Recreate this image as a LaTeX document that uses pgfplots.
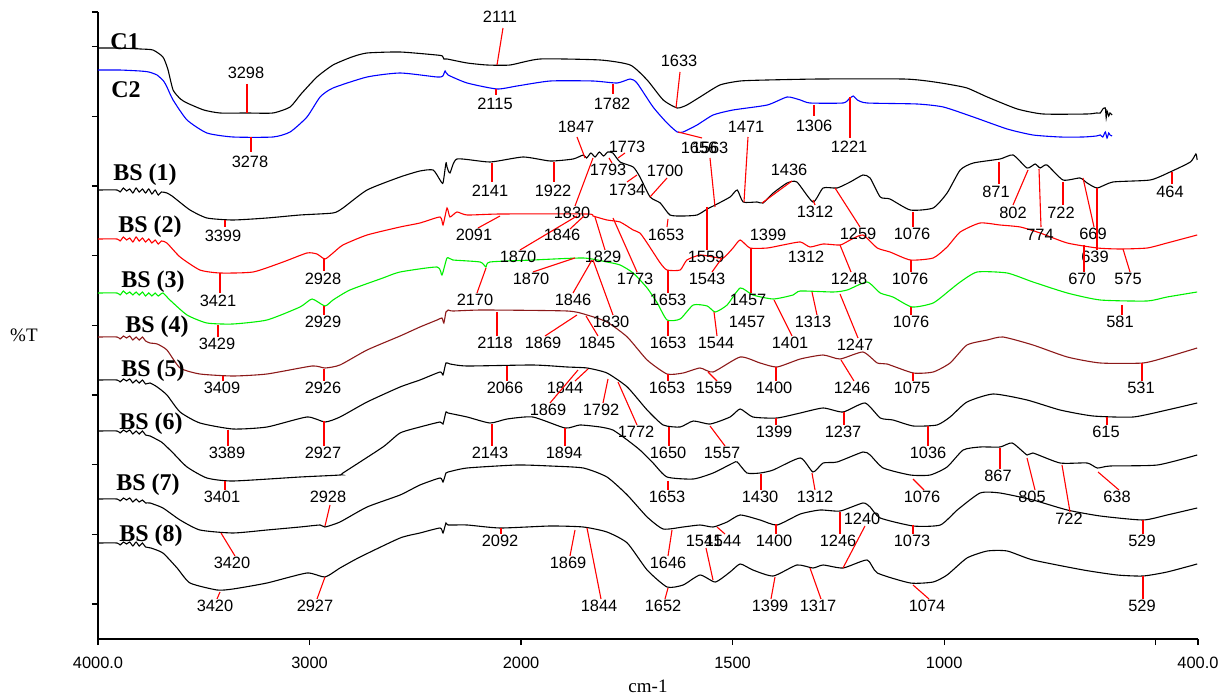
\documentclass[border=0pt]{standalone}
\usepackage{fontspec}
\setmainfont{Liberation Serif}
\newfontfamily\lsans{Liberation Sans}
\usepackage{pgfplots}
\pgfplotsset{compat=1.18}
\definecolor{bsfour}{RGB}{140,25,25}
\definecolor{bsgreen}{RGB}{0,240,0}
\newcommand{\A}[7]{\draw[red,line width=0.55pt] (#1,#2)--(#3,#4); \node[pk] at (#5,#6) {#7};}
\newcommand{\Lb}[3]{\node[pk] at (#1,#2) {#3};}
\newcommand{\Tn}[3]{\node[tn] at (#1,#2) {#3};}
\begin{document}
\begin{tikzpicture}
\begin{axis}[
  scale only axis, width=550pt, height=313.5pt,
  at={(0,0)}, anchor=south west,
  x dir=reverse, xmin=400, xmax=3000, ymin=0, ymax=627,
  x filter/.expression={x>2000 ? 2000+(x-2000)/2 : x},
  axis lines=left, axis line style={-, line width=0.7pt},
  tick align=outside, major tick length=3pt,
  tick style={black, line width=0.6pt},
  xtick={3000,2500,2000,1500,1000,500,400},
  xticklabels={4000.0,3000,2000,1500,1000,,400.0},
  ytick={35,104.67,174.33,244,313.67,383.33,453,522.67,592.33,627},
  yticklabels={},
  xticklabel style={font=\lsans\fontsize{8.2}{9}\selectfont, yshift=-2.5pt},
  xlabel={cm-1},
  xlabel style={font=\fontsize{9.5}{11}\selectfont, at={(axis description cs:0.5,-0.075)}, anchor=center},
  ylabel={\%T},
  ylabel style={font=\fontsize{9.5}{11}\selectfont, rotate=-90, at={(axis description cs:-0.0673,0.485)}, anchor=center},
  every axis plot/.append style={line width=0.55pt, mark=none, smooth, tension=0.35},
]
% C1
\addplot[black] coordinates {(4000,591) (3900,591) (3800,590) (3740,589) (3693,582) (3670,570) (3645,549) (3610,540) (3579,536) (3500,529) (3423,526) (3296,526) (3173,526) (3092,532) (3040,545) (2965,562) (2889,574) (2800,582) (2728,586) (2572,587) (2400,584) (2372,583) (2365,580) (2350,580) (2255,576) (2161,574) (2052,574) (1955,580) (1813,579) (1742,574) (1702,559) (1664,539) (1631,531) (1608,534) (1577,542) (1530,554) (1482,558) (1418,559) (1293,560) (1097,560) (1040,558) (993,555) (946,551) (898,542) (827,530) (766,525) (662,525) (640,526) (631,526) (625,530) (619,531) (617,521) (615,528) (611,523) (608,526) (603,524)};
% C2
\addplot[blue] coordinates {(4000,569) (3900,569) (3801,568) (3760,567) (3721,564) (3690,558) (3674,552) (3645,539) (3579,519) (3485,506) (3362,502) (3173,502) (3092,507) (3012,522) (2950,542) (2889,551) (2728,562) (2572,566) (2397,562) (2370,563) (2359,568) (2345,564) (2255,556) (2114,550) (2019,553) (1931,558) (1830,558) (1773,556) (1742,560) (1726,556) (1688,532) (1655,516) (1631,507) (1617,507) (1584,514) (1546,524) (1499,529) (1418,534) (1371,542) (1340,539) (1317,536) (1239,536) (1225,540) (1215,543) (1205,539) (1182,536) (1064,535) (1002,532) (931,522) (851,510) (790,504) (726,502) (671,502) (640,503) (631,504) (625,502) (619,507) (615,501) (611,506) (608,504) (603,503)};
% BS1
\addplot[black] coordinates {(4000,449) (3910,449) (3895,447) (3880,451) (3865,448) (3850,450) (3835,446) (3820,451) (3805,447) (3790,450) (3775,446) (3760,450) (3745,445) (3730,449) (3715,444) (3700,447) (3674,446) (3650,443) (3626,439) (3565,429) (3485,421) (3362,419) (3201,421) (3045,424) (2889,426) (2842,431) (2728,449) (2572,462) (2478,468) (2416,469) (2383,459) (2369,456) (2355,476) (2350,472) (2336,466) (2303,480) (2147,477) (1995,482) (1931,478) (1877,480) (1853,484) (1845,481) (1835,486) (1825,482) (1815,487) (1805,483) (1795,487) (1783,486) (1766,477) (1735,472) (1719,462) (1695,442) (1671,436) (1648,424) (1617,423) (1584,424) (1560,430) (1541,434) (1506,442) (1489,449) (1475,437) (1442,437) (1428,436) (1404,446) (1371,456) (1348,457) (1310,437) (1286,451) (1253,451) (1222,457) (1192,464) (1175,461) (1151,442) (1128,440) (1080,429) (1026,431) (993,446) (962,469) (931,476) (868,480) (837,484) (804,471) (785,475) (773,471) (757,474) (719,459) (679,461) (662,456) (638,451) (601,457) (513,459) (466,467) (418,477) (405,485) (402,479)};
% BS2
\addplot[red] coordinates {(4000,400) (3910,400) (3895,398) (3880,402) (3865,399) (3850,401) (3835,397) (3820,402) (3805,398) (3790,401) (3775,397) (3760,400) (3745,396) (3730,399) (3715,395) (3700,398) (3674,396) (3612,382) (3518,369) (3423,366) (3267,367) (3125,377) (3012,386) (2965,385) (2927,380) (2889,386) (2842,394) (2728,404) (2572,412) (2478,416) (2383,422) (2369,414) (2350,431) (2336,422) (2303,427) (2255,424) (2099,425) (1844,425) (1830,423) (1797,419) (1766,417) (1735,409) (1719,406) (1702,396) (1671,376) (1655,369) (1624,369) (1608,379) (1577,384) (1546,382) (1522,381) (1499,391) (1482,399) (1459,391) (1418,391) (1381,394) (1340,397) (1317,392) (1286,395) (1246,394) (1222,399) (1192,404) (1158,391) (1128,387) (1080,379) (1026,381) (993,392) (962,407) (915,416) (868,414) (820,412) (773,406) (709,396) (638,391) (584,390) (520,391) (473,396) (402,404)};
% BS3
\addplot[bsgreen] coordinates {(4000,346) (3910,346) (3895,344) (3880,348) (3865,345) (3850,347) (3835,344) (3820,347) (3805,344) (3790,347) (3775,343) (3760,346) (3745,343) (3730,346) (3715,343) (3693,346) (3660,339) (3579,324) (3485,316) (3362,315) (3201,319) (3045,332) (2988,340) (2927,333) (2889,339) (2809,349) (2653,361) (2572,367) (2397,372) (2374,364) (2350,381) (2322,379) (2194,377) (2166,372) (2147,377) (1972,379) (1853,381) (1797,377) (1766,374) (1735,366) (1702,351) (1678,336) (1655,319) (1624,320) (1593,334) (1560,333) (1541,327) (1513,334) (1482,351) (1452,344) (1404,340) (1357,344) (1340,348) (1262,347) (1229,349) (1182,357) (1151,346) (1121,342) (1076,332) (1026,336) (986,349) (962,357) (922,367) (851,366) (790,357) (709,346) (631,339) (520,338) (473,342) (402,347)};
% BS4
\addplot[bsfour] coordinates {(4000,302) (3910,302) (3895,300) (3880,303) (3865,301) (3850,303) (3835,299) (3820,302) (3805,299) (3790,302) (3775,298) (3754,296) (3720,295) (3674,289) (3612,271) (3518,265) (3362,263) (3201,265) (2988,273) (2927,271) (2856,274) (2728,289) (2572,303) (2478,312) (2397,319) (2374,321) (2365,316) (2355,327) (2345,329) (2322,328) (2180,329) (1891,328) (1844,324) (1797,317) (1749,302) (1702,279) (1655,265) (1617,266) (1577,271) (1546,267) (1482,282) (1435,276) (1395,272) (1340,280) (1286,284) (1246,280) (1192,287) (1158,276) (1135,275) (1073,266) (1026,267) (986,276) (946,294) (898,299) (861,302) (790,294) (709,282) (631,276) (530,276) (473,282) (402,291)};
% BS5
\addplot[black] coordinates {(4000,259) (3910,259) (3895,257) (3880,260) (3865,258) (3850,260) (3835,256) (3820,259) (3805,256) (3790,259) (3775,255) (3754,256) (3720,252) (3674,244) (3612,227) (3518,216) (3362,210) (3201,212) (3012,222) (2927,217) (2856,222) (2728,237) (2572,252) (2478,259) (2383,267) (2369,264) (2355,276) (2336,275) (2255,273) (1972,274) (1891,272) (1844,271) (1797,266) (1749,252) (1702,229) (1664,214) (1624,212) (1593,218) (1553,215) (1506,222) (1482,230) (1452,222) (1395,221) (1340,226) (1286,231) (1239,227) (1187,236) (1151,221) (1121,219) (1073,213) (1017,214) (986,222) (946,237) (884,245) (804,239) (726,229) (648,223) (553,222) (473,229) (402,236)};
% BS6
\addplot[black] coordinates {(4000,208) (3910,208) (3895,206) (3880,209) (3865,207) (3850,209) (3835,205) (3820,208) (3805,205) (3790,208) (3775,204) (3754,203) (3700,197) (3674,192) (3645,186) (3579,172) (3485,161) (3362,158) (3045,162) (2856,164) (2842,166) (2653,192) (2572,206) (2478,212) (2383,217) (2369,215) (2355,227) (2345,226) (2255,222) (2147,216) (2066,220) (1972,222) (1896,211) (1861,214) (1813,212) (1783,209) (1749,199) (1719,189) (1688,176) (1655,162) (1593,160) (1546,166) (1499,176) (1489,177) (1466,166) (1435,166) (1404,169) (1340,181) (1310,167) (1286,176) (1253,177) (1192,187) (1175,184) (1144,171) (1080,164) (1033,164) (993,172) (955,189) (915,192) (868,192) (839,196) (804,184) (790,186) (726,176) (662,176) (638,171) (608,173) (496,174) (402,184)};
% BS7
\addplot[black] coordinates {(4000,140) (3910,140) (3895,138) (3880,141) (3865,139) (3850,141) (3835,137) (3820,140) (3805,137) (3790,139) (3775,136) (3754,136) (3693,131) (3612,119) (3518,109) (3362,106) (3201,109) (3045,112) (2950,114) (2927,112) (2856,117) (2728,132) (2572,144) (2478,154) (2383,161) (2369,157) (2355,166) (2345,167) (2255,171) (2019,174) (1931,173) (1853,171) (1797,162) (1749,144) (1702,122) (1664,110) (1617,112) (1577,114) (1546,112) (1513,117) (1482,124) (1435,119) (1395,114) (1340,125) (1293,129) (1246,128) (1192,136) (1175,132) (1151,121) (1073,113) (1009,114) (969,129) (915,146) (868,146) (790,139) (709,129) (631,123) (530,119) (473,124) (402,131)};
% BS8
\addplot[black] coordinates {(4000,96) (3910,96) (3895,94) (3880,97) (3865,95) (3850,97) (3835,93) (3820,97) (3805,93) (3790,96) (3775,92) (3750,91) (3693,86) (3626,71) (3565,56) (3437,49) (3362,50) (3201,56) (3012,66) (2927,62) (2856,71) (2761,82) (2572,101) (2478,106) (2383,111) (2369,106) (2355,116) (2345,114) (2255,114) (2099,111) (1931,113) (1853,112) (1797,107) (1749,96) (1702,69) (1655,52) (1617,54) (1577,64) (1541,57) (1506,67) (1482,75) (1452,69) (1404,63) (1348,74) (1310,71) (1286,74) (1239,71) (1182,79) (1158,66) (1080,56) (1026,57) (993,64) (946,81) (898,88) (851,88) (790,79) (671,69) (591,64) (530,63) (473,67) (402,75)};
\end{axis}
\begin{scope}[x=0.5pt,y=-0.5pt,xshift=-49pt,yshift=319.5pt,
  pk/.style={font=\lsans\fontsize{8.2}{9}\selectfont, inner sep=0pt},
  tn/.style={font=\bfseries\fontsize{12}{14}\selectfont, inner sep=0pt}]
% trace names
\Tn{125}{42}{C1}
\Tn{126}{90}{C2}
\Tn{145}{175}{BS (1)}
\Tn{150}{227}{BS (2)}
\Tn{153}{282}{BS (3)}
\Tn{157}{327}{BS (4)}
\Tn{153}{371}{BS (5)}
\Tn{151}{424}{BS (6)}
\Tn{148}{485}{BS (7)}
\Tn{151}{536}{BS (8)}
% C1, C2
\A{247}{84}{247}{113}{246}{73}{3298}
\A{251}{137}{251}{152}{250}{162}{3278}
\A{503}{28}{497}{65}{500}{17}{2111}
\A{496}{89}{496}{95}{495}{104}{2115}
\A{613}{84}{613}{94}{612}{104}{1782}
\A{680}{72}{676}{108}{679}{61}{1633}
\A{814}{105}{814}{116}{814}{126}{1306}
\A{850}{97}{850}{138}{849}{147}{1221}
\A{678}{132}{702}{138}{699}{148}{1656}
\A{710}{158}{715}{207}{710}{148}{1563}
% BS1
\A{225}{220}{225}{227}{223}{236}{3399}
\A{492}{163}{492}{182}{490}{191}{2141}
\A{554}{162}{554}{182}{553}{191}{1922}
\A{577}{137}{585}{158}{576}{127}{1847}
\A{625}{153}{618}{158}{627}{147}{1773}
\A{612}{163}{609}{158}{608}{170}{1793}
\A{627}{182}{637}{175}{627}{190}{1734}
\A{667}{178}{650}{197}{665}{171}{1700}
\A{668}{219}{667}{227}{666}{235}{1653}
\A{748}{137}{744}{202}{746}{127}{1471}
\A{792}{181}{762}{203}{789}{170}{1436}
\A{813}{200}{815}{205}{815}{212}{1312}
\A{835}{188}{860}{227}{858}{234}{1259}
\A{913}{212}{913}{227}{912}{234}{1076}
\A{999}{162}{999}{184}{996}{192}{871}
\A{1028}{170}{1013}{205}{1013}{213}{802}
\A{1039}{169}{1041}{227}{1040}{235}{774}
\A{1063}{182}{1063}{205}{1061}{213}{722}
\A{1083}{178}{1094}{227}{1093}{234}{669}
\A{1172}{172}{1172}{184}{1170}{192}{464}
\A{575}{206}{593}{158}{572}{213}{1830}
% BS2
\A{220}{273}{220}{293}{218}{301}{3421}
\A{324}{258}{324}{271}{323}{279}{2928}
\A{500}{216}{478}{228}{474}{235}{2091}
\A{577}{216}{520}{250}{518}{257}{1870}
\A{584}{216}{570}{229}{562}{235}{1846}
\A{595}{217}{605}{250}{603}{257}{1829}
\A{613}{218}{637}{272}{635}{279}{1773}
\A{668}{270}{668}{293}{668}{300}{1653}
\A{707}{207}{707}{250}{706}{257}{1559}
\A{722}{258}{712}{272}{707}{279}{1543}
\A{751}{248}{751}{293}{748}{300}{1457}
\A{840}{245}{851}{272}{849}{279}{1248}
\A{911}{260}{911}{272}{910}{279}{1076}
\A{1097}{188}{1097}{250}{1095}{257}{639}
\A{1084}{245}{1084}{272}{1082}{279}{670}
\A{1123}{249}{1130}{272}{1128}{279}{575}
\Lb{768}{235}{1399}
\Lb{806}{257}{1312}
% BS3
\A{218}{325}{218}{337}{217}{344}{3429}
\A{324}{306}{324}{315}{323}{322}{2929}
\A{486}{268}{477}{293}{475}{300}{2170}
\A{575}{258}{533}{272}{531}{279}{1870}
\A{592}{260}{573}{293}{573}{300}{1846}
\A{593}{260}{613}{315}{611}{322}{1830}
\A{668}{321}{668}{336}{668}{343}{1653}
\A{714}{312}{717}{336}{716}{343}{1544}
\Lb{747}{322}{1457}
\A{774}{300}{792}{336}{790}{343}{1401}
\A{812}{292}{817}{315}{813}{322}{1313}
\A{840}{294}{858}{338}{855}{345}{1247}
\A{911}{307}{911}{315}{911}{322}{1076}
\A{1122}{305}{1122}{315}{1120}{322}{581}
% BS4
\A{223}{376}{223}{381}{222}{388}{3409}
\A{324}{369}{324}{381}{323}{388}{2926}
\A{497}{312}{497}{336}{495}{343}{2118}
\A{577}{315}{545}{336}{543}{343}{1869}
\A{586}{316}{598}{336}{597}{343}{1845}
\A{668}{374}{668}{381}{667}{388}{1653}
\A{708}{372}{717}{381}{714}{388}{1559}
\A{776}{367}{776}{381}{774}{388}{1400}
\A{841}{360}{854}{381}{852}{388}{1246}
\A{913}{373}{913}{381}{912}{388}{1075}
\A{1142}{363}{1142}{381}{1141}{388}{531}
% BS5
\A{228}{430}{228}{446}{227}{453}{3389}
\A{324}{421}{324}{446}{323}{453}{2927}
\A{507}{366}{507}{381}{505}{388}{2066}
\A{588}{369}{575}{381}{565}{388}{1844}
\A{578}{370}{550}{403}{548}{410}{1869}
\A{608}{379}{603}{403}{601}{410}{1792}
\A{618}{382}{637}{425}{636}{432}{1772}
\A{669}{427}{669}{446}{668}{453}{1650}
\A{710}{426}{725}{446}{722}{453}{1557}
\A{776}{418}{776}{425}{774}{432}{1399}
\A{844}{412}{844}{425}{843}{432}{1237}
\A{928}{426}{928}{446}{928}{453}{1036}
\A{1107}{417}{1107}{425}{1106}{432}{615}
% BS6
\A{492}{424}{492}{446}{490}{453}{2143}
\A{565}{428}{565}{446}{564}{453}{1894}
\A{225}{481}{225}{490}{222}{497}{3401}
\A{668}{481}{668}{490}{667}{497}{1653}
\A{761}{474}{761}{490}{760}{497}{1430}
\A{812}{473}{815}{490}{815}{497}{1312}
\A{913}{479}{924}{490}{922}{497}{1076}
\A{1000}{448}{1000}{469}{998}{476}{867}
\A{1027}{458}{1035}{490}{1032}{497}{805}
\A{1062}{465}{1070}{512}{1069}{519}{722}
\A{1098}{472}{1119}{490}{1117}{497}{638}
% BS7
\A{330}{505}{325}{526}{328}{497}{2928}
\A{221}{533}{235}{556}{232}{563}{3420}
\A{672}{530}{668}{556}{668}{563}{1646}
\A{717}{527}{725}{534}{723}{541}{1544}
\A{776}{524}{776}{534}{774}{541}{1400}
\A{840}{512}{840}{534}{838}{541}{1246}
\A{913}{525}{913}{534}{912}{541}{1073}
\A{1143}{520}{1143}{534}{1142}{541}{529}
% BS8
\A{501}{528}{501}{534}{500}{541}{2092}
\A{575}{530}{570}{556}{568}{563}{1869}
\A{587}{528}{601}{599}{599}{606}{1844}
\A{668}{588}{665}{599}{663}{606}{1652}
\A{713}{580}{706}{548}{704}{541}{1541}
\A{775}{577}{771}{599}{770}{606}{1399}
\A{810}{568}{821}{599}{818}{606}{1317}
\A{843}{568}{865}{526}{862}{519}{1240}
\A{913}{585}{929}{599}{927}{606}{1074}
\A{1143}{576}{1143}{599}{1142}{606}{529}
\A{220}{592}{217}{599}{215}{606}{3420}
\A{325}{577}{317}{599}{315}{606}{2927}
\end{scope}
\pgfresetboundingbox
\path[use as bounding box] (-49pt,-28.5pt) rectangle (564pt,319.5pt);
\end{tikzpicture}
\end{document}
